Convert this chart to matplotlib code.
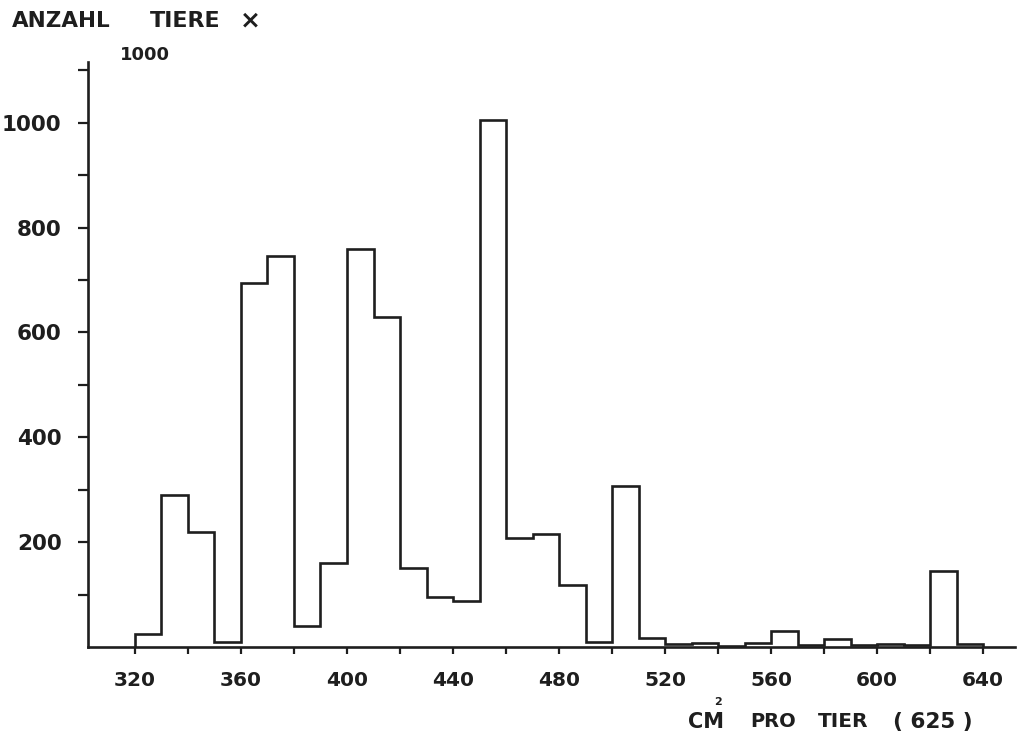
import matplotlib
matplotlib.use("Agg")
import matplotlib.pyplot as plt
import numpy as np

# histogram: number of animals (x 1000) per cm2 class, bins of 10 cm2
bin_start = 320
bin_width = 10
counts = [25, 290, 220, 10, 695, 745, 40, 160, 760, 630,
          150, 95, 88, 1005, 208, 215, 118, 10, 308, 18,
          5, 7, 2, 8, 30, 3, 15, 3, 6, 4, 145, 6]

x_labels = [320, 360, 400, 440, 480, 520, 560, 600, 640]
y_labels = [200, 400, 600, 800, 1000]

edges = bin_start + bin_width * np.arange(len(counts) + 1)

plt.rcParams['font.family'] = ['DejaVu Sans']
plt.rcParams['font.weight'] = 'bold'

fig = plt.figure(figsize=(10.19, 7.45), dpi=100)
ax = fig.add_axes([0.0864, 0.1315, 0.9096, 0.7855])

ink = '#1e1e1e'
ax.stairs(counts, edges, baseline=0, color=ink, linewidth=1.9)

ax.set_xlim(302.3, 652)
ax.set_ylim(0, 1116)

ax.spines['top'].set_visible(False)
ax.spines['right'].set_visible(False)
for s in ['left', 'bottom']:
    ax.spines[s].set_color(ink)
    ax.spines[s].set_linewidth(1.9)

ax.set_xticks(x_labels)
ax.set_xticks(np.arange(340, 641, 40), minor=True)
ax.set_yticks(y_labels)
ax.set_yticks(np.arange(100, 1101, 200), minor=True)

ax.tick_params(axis='both', which='both', direction='out', color=ink, width=1.6)
ax.tick_params(axis='x', which='both', length=5, pad=12, labelsize=14.5, labelcolor=ink)
ax.tick_params(axis='y', which='both', length=7, pad=12, labelsize=15.5, labelcolor=ink)

# title pieces (spaced lettering like the original)
ty = 0.972
fig.text(12 / 1019, ty, 'ANZAHL', fontsize=15.5, color=ink, ha='left', va='center')
fig.text(150 / 1019, ty, 'TIERE', fontsize=16, color=ink, ha='left', va='center')
fig.text(240 / 1019, ty, '×', fontsize=18, color=ink, ha='left', va='center')
fig.text(120 / 1019, 0.926, '1000', fontsize=13, color=ink, ha='left', va='center')

# x axis label
xy = 0.031
fig.text(688 / 1019, xy, 'CM', fontsize=15, color=ink, ha='left', va='center')
fig.text(714 / 1019, 0.058, '2', fontsize=8, color=ink, ha='left', va='center')
fig.text(750 / 1019, xy, 'PRO', fontsize=14, color=ink, ha='left', va='center')
fig.text(818 / 1019, xy, 'TIER', fontsize=14.5, color=ink, ha='left', va='center')
fig.text(893 / 1019, xy, '( 625 )', fontsize=15.5, color=ink, ha='left', va='center')

fig.savefig('out.png', dpi=100, facecolor='white')
